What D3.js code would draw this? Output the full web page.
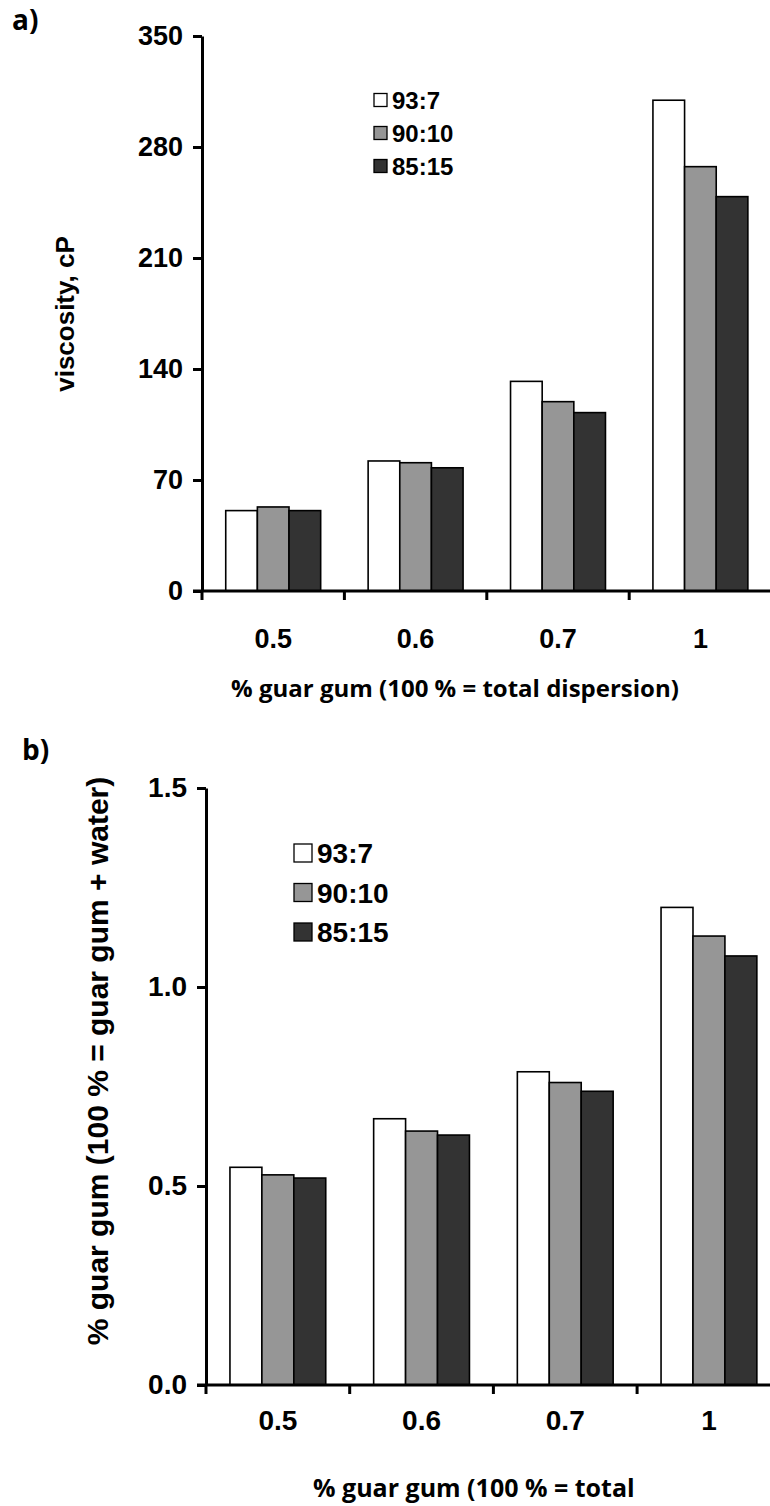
<!DOCTYPE html>
<html>
<head>
<meta charset="utf-8">
<script src="https://cdn.jsdelivr.net/npm/d3@7"></script>
<style>
  html, body { margin: 0; padding: 0; background: #fff; }
  svg { display: block; }
</style>
</head>
<body>
<svg id="chart" width="770" height="1506"></svg>
<script>
const categories = ["0.5", "0.6", "0.7", "1"];
const seriesNames = ["93:7", "90:10", "85:15"];
const seriesColors = ["#ffffff", "#969696", "#333333"];

// a) viscosity, cP
const viscosity_93_7  = [50.7, 82.0, 132.2, 309.5];
const viscosity_90_10 = [53.0, 80.9, 119.4, 267.6];
const viscosity_85_15 = [50.7, 77.7, 112.5, 248.7];
const viscosityTicks = [0, 70, 140, 210, 280, 350];

// b) % guar gum (100 % = guar gum + water)
const guar_93_7  = [0.547, 0.669, 0.787, 1.200];
const guar_90_10 = [0.528, 0.638, 0.760, 1.128];
const guar_85_15 = [0.520, 0.628, 0.738, 1.078];
const guarTicks = [0.0, 0.5, 1.0, 1.5];

const ARIAL = '"Liberation Sans", Arial, sans-serif';
const CAL = '"Open Sans", Lato, sans-serif';

const svg = d3.select("#chart");

function txt(sel, fam, size) {
  return sel.style("font-family", fam).style("font-weight", "bold").style("font-size", size + "px").attr("fill", "#000");
}

function drawPanel(cfg) {
  const g = svg.append("g");
  const x = d3.scaleBand().domain(categories).range([cfg.x0, cfg.x0 + cfg.cat * categories.length]).padding(0);
  const bw = x.bandwidth();
  const inner = d3.scaleBand().domain(seriesNames).range([bw * 0.75 / 4.5, bw - bw * 0.75 / 4.5]).padding(0);
  const y = d3.scaleLinear().domain([cfg.ymin, cfg.ymax]).range([cfg.yBottom, cfg.yTop]);

  const data = [];
  categories.forEach((c, i) => {
    seriesNames.forEach((s, j) => data.push({ c, s, j, v: cfg.series[j][i] }));
  });

  g.selectAll("rect.bar").data(data).enter().append("rect")
    .attr("class", "bar")
    .attr("x", d => x(d.c) + inner(d.s))
    .attr("width", inner.bandwidth())
    .attr("y", d => y(d.v))
    .attr("height", d => y(cfg.ymin) - y(d.v))
    .attr("fill", d => seriesColors[d.j])
    .attr("stroke", "#000")
    .attr("stroke-width", 1.6);

  // y axis
  const yAxis = d3.axisLeft(y).tickValues(cfg.ticks).tickFormat(cfg.fmt).tickSize(9).tickSizeOuter(0).tickPadding(10);
  const ya = g.append("g").attr("transform", `translate(${cfg.x0},0)`).call(yAxis);
  ya.select(".domain").attr("stroke", "#000").attr("stroke-width", 3);
  ya.selectAll(".tick line").attr("stroke", "#000").attr("stroke-width", 3);
  txt(ya.selectAll(".tick text"), ARIAL, cfg.tickFont);

  // x axis line
  const xEnd = cfg.x0 + cfg.cat * categories.length;
  g.append("line").attr("x1", cfg.x0 - 9).attr("x2", xEnd).attr("y1", y(cfg.ymin)).attr("y2", y(cfg.ymin))
    .attr("stroke", "#000").attr("stroke-width", 3);
  // boundary ticks
  const bounds = categories.map(c => x(c)).concat([xEnd]);
  g.selectAll("line.xt").data(bounds).enter().append("line")
    .attr("x1", d => d).attr("x2", d => d)
    .attr("y1", y(cfg.ymin)).attr("y2", y(cfg.ymin) + 9)
    .attr("stroke", "#000").attr("stroke-width", 3);
  // x labels
  txt(g.selectAll("text.xl").data(categories).enter().append("text")
    .attr("x", d => x(d) + bw / 2)
    .attr("y", y(cfg.ymin) + cfg.xLabelDy)
    .attr("text-anchor", "middle")
    .text(d => d), ARIAL, cfg.xLabelFont);

  // legend
  const lg = g.append("g");
  seriesNames.forEach((s, j) => {
    const ly = cfg.legY + j * cfg.legStep;
    lg.append("rect").attr("x", cfg.legX).attr("y", ly - cfg.legBox / 2)
      .attr("width", cfg.legBox).attr("height", cfg.legBox)
      .attr("fill", seriesColors[j]).attr("stroke", "#000").attr("stroke-width", 1.3);
    txt(lg.append("text").attr("x", cfg.legX + cfg.legBox + 5).attr("y", ly)
      .attr("dy", "0.36em").text(s), ARIAL, cfg.legFont);
  });

  // y title
  txt(g.append("text")
    .attr("transform", `translate(${cfg.yTitleX},${cfg.yTitleY}) rotate(-90)`)
    .attr("text-anchor", "middle").attr("dy", "0.36em")
    .text(cfg.yTitle), ARIAL, cfg.yTitleFont);

  // x title
  txt(g.append("text")
    .attr("x", cfg.xTitleX).attr("y", cfg.xTitleY)
    .attr("text-anchor", cfg.xTitleAnchor).attr("dy", "0.36em")
    .text(cfg.xTitle), CAL, cfg.xTitleFont);

  // panel label
  txt(g.append("text").attr("x", cfg.panelX).attr("y", cfg.panelY)
    .attr("dy", "0.36em").text(cfg.panel), CAL, 28);
}

drawPanel({
  x0: 202, cat: 142.4, ymin: 0, ymax: 350, yBottom: 591, yTop: 36,
  series: [viscosity_93_7, viscosity_90_10, viscosity_85_15],
  ticks: viscosityTicks, fmt: d3.format("d"), tickFont: 27, xLabelFont: 27, xLabelDy: 57,
  legX: 374, legY: 100, legStep: 33, legBox: 13, legFont: 24,
  yTitle: "viscosity, cP", yTitleX: 65, yTitleY: 314, yTitleFont: 26,
  xTitle: "% guar gum (100 % = total dispersion)", xTitleX: 455, xTitleY: 688, xTitleAnchor: "middle", xTitleFont: 24,
  panel: "a)", panelX: 12, panelY: 20
});

drawPanel({
  x0: 206, cat: 143.7, ymin: 0, ymax: 1.5, yBottom: 1385, yTop: 788,
  series: [guar_93_7, guar_90_10, guar_85_15],
  ticks: guarTicks, fmt: d3.format(".1f"), tickFont: 28, xLabelFont: 28, xLabelDy: 45,
  legX: 294, legY: 853, legStep: 39.5, legBox: 18, legFont: 28,
  yTitle: "% guar gum (100 % = guar gum + water)", yTitleX: 97, yTitleY: 1061, yTitleFont: 30,
  xTitle: "% guar gum (100 % = total", xTitleX: 313, xTitleY: 1488, xTitleAnchor: "start", xTitleFont: 25,
  panel: "b)", panelX: 22, panelY: 750
});
</script>
</body>
</html>
